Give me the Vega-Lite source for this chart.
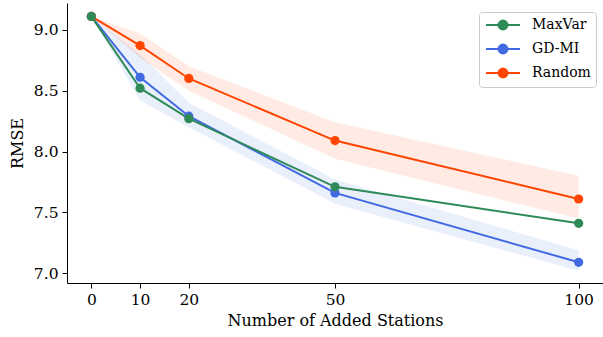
{
  "$schema": "https://vega.github.io/schema/vega-lite/v6.json",
  "width": 536,
  "height": 280,
  "autosize": {"type": "none"},
  "padding": {"left": 67, "top": 3, "right": 0, "bottom": 54},
  "background": "white",
  "config": {
    "view": {"stroke": null},
    "font": "DejaVu Serif",
    "axis": {
      "labelFont": "DejaVu Serif",
      "titleFont": "DejaVu Serif",
      "labelFontSize": 15.5,
      "titleFontSize": 16,
      "titleFontWeight": "normal",
      "labelColor": "#000",
      "titleColor": "#000",
      "domainColor": "#000",
      "tickColor": "#000",
      "domainWidth": 1,
      "tickWidth": 1,
      "tickSize": 5,
      "grid": false
    },
    "legend": {
      "labelFont": "DejaVu Serif",
      "labelFontSize": 14,
      "labelColor": "#000"
    }
  },
  "datasets": {
    "lines": [
      {"stations": 0, "method": "GD-MI", "rmse": 9.11},
      {"stations": 10, "method": "GD-MI", "rmse": 8.61},
      {"stations": 20, "method": "GD-MI", "rmse": 8.29},
      {"stations": 50, "method": "GD-MI", "rmse": 7.66},
      {"stations": 100, "method": "GD-MI", "rmse": 7.09},
      {"stations": 0, "method": "Random", "rmse": 9.11},
      {"stations": 10, "method": "Random", "rmse": 8.87},
      {"stations": 20, "method": "Random", "rmse": 8.60},
      {"stations": 50, "method": "Random", "rmse": 8.09},
      {"stations": 100, "method": "Random", "rmse": 7.61},
      {"stations": 0, "method": "MaxVar", "rmse": 9.11},
      {"stations": 10, "method": "MaxVar", "rmse": 8.52},
      {"stations": 20, "method": "MaxVar", "rmse": 8.27},
      {"stations": 50, "method": "MaxVar", "rmse": 7.71},
      {"stations": 100, "method": "MaxVar", "rmse": 7.41}
    ],
    "bands": [
      {"stations": 0, "method": "GD-MI", "lo": 9.11, "hi": 9.11},
      {"stations": 10, "method": "GD-MI", "lo": 8.42, "hi": 8.80},
      {"stations": 20, "method": "GD-MI", "lo": 8.20, "hi": 8.40},
      {"stations": 50, "method": "GD-MI", "lo": 7.57, "hi": 7.77},
      {"stations": 100, "method": "GD-MI", "lo": 7.02, "hi": 7.19},
      {"stations": 0, "method": "Random", "lo": 9.11, "hi": 9.11},
      {"stations": 10, "method": "Random", "lo": 8.77, "hi": 8.97},
      {"stations": 20, "method": "Random", "lo": 8.50, "hi": 8.70},
      {"stations": 50, "method": "Random", "lo": 7.94, "hi": 8.24},
      {"stations": 100, "method": "Random", "lo": 7.45, "hi": 7.80}
    ]
  },
  "layer": [
    {
      "data": {"name": "bands"},
      "mark": {"type": "area", "opacity": 0.11},
      "encoding": {
        "x": {"field": "stations", "type": "quantitative"},
        "y": {"field": "lo", "type": "quantitative"},
        "y2": {"field": "hi"},
        "color": {"field": "method", "type": "nominal", "scale": {"domain": ["MaxVar", "GD-MI", "Random"], "range": ["#2E8B57", "#4169E1", "#FF4500"]}}
      }
    },
    {
      "data": {"name": "lines"},
      "mark": {"type": "line", "strokeWidth": 2},
      "encoding": {
        "x": {
          "field": "stations", "type": "quantitative",
          "scale": {"domain": [-5, 105], "nice": false, "zero": false},
          "axis": {"values": [0, 10, 20, 50, 100], "title": "Number of Added Stations", "titlePadding": 5, "labelPadding": 4}
        },
        "y": {
          "field": "rmse", "type": "quantitative",
          "scale": {"domain": [6.92, 9.22], "nice": false, "zero": false},
          "axis": {"values": [7.0, 7.5, 8.0, 8.5, 9.0], "format": ".1f", "title": "RMSE", "titlePadding": 8, "labelPadding": 4}
        },
        "color": {
          "field": "method", "type": "nominal",
          "scale": {"domain": ["MaxVar", "GD-MI", "Random"], "range": ["#2E8B57", "#4169E1", "#FF4500"]},
          "legend": {
            "title": null,
            "orient": "none",
            "legendX": 412,
            "legendY": 9,
            "labelFont": "DejaVu Serif",
            "labelFontSize": 14,
            "symbolType": "M-2.43,0L2.43,0M-0.64,0A0.64,0.64,0,1,0,0.64,0A0.64,0.64,0,1,0,-0.64,0Z",
            "symbolSize": 196,
            "symbolOffset": 11,
            "symbolStrokeWidth": 2,
            "rowPadding": 6,
            "labelOffset": 21,
            "padding": 5,
            "strokeColor": "#cccccc",
            "fillColor": "white",
            "cornerRadius": 3,
            "encode": {
              "symbols": {"update": {"fill": {"scale": "color", "field": "value"}, "fillOpacity": {"value": 1}, "opacity": {"value": 1}}},
              "labels": {"update": {"font": {"value": "DejaVu Serif"}, "fontSize": {"value": 14}, "fill": {"value": "#000"}}}
            }
          }
        }
      }
    },
    {
      "data": {"name": "lines"},
      "mark": {"type": "point", "filled": true, "size": 85, "opacity": 1},
      "encoding": {
        "x": {"field": "stations", "type": "quantitative"},
        "y": {"field": "rmse", "type": "quantitative"},
        "color": {"field": "method", "type": "nominal", "scale": {"domain": ["MaxVar", "GD-MI", "Random"], "range": ["#2E8B57", "#4169E1", "#FF4500"]}}
      }
    }
  ]
}
